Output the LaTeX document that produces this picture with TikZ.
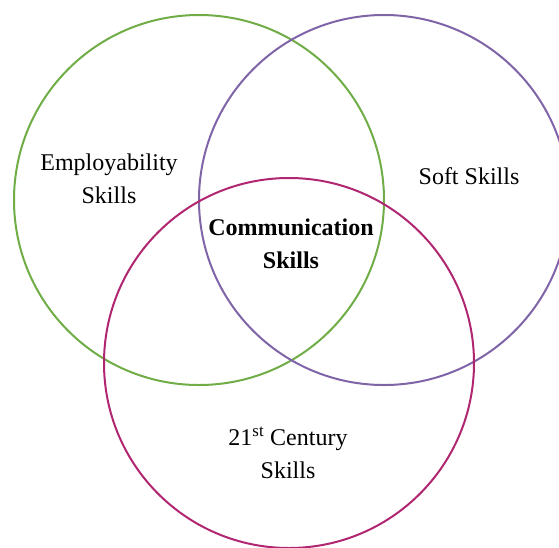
\documentclass[tikz,border=0pt]{standalone}
\usepackage{fontspec}
\setmainfont{Liberation Serif}
\definecolor{ringgreen}{RGB}{112,173,71}
\definecolor{ringpurple}{RGB}{128,100,168}
\definecolor{ringmagenta}{RGB}{176,38,112}
\tikzset{
	ring/.style={draw=#1, line width=2pt, circle, minimum size=370pt, inner sep=0pt},
	label text/.style={align=center, font=\fontsize{24}{33}\selectfont}
}
\begin{document}
\begin{tikzpicture}[x=1pt, y=-1pt]
	\useasboundingbox (0,0) rectangle (559,547);
	% Kreise
	\node[ring=ringgreen] (employ) at (199,200) {};
	\node[ring=ringpurple] (soft) at (384,200) {};
	\node[ring=ringmagenta] (century) at (289,363) {};
	% Beschriftungen
	\node[label text] (employtext) at (109,179) {Employability\\Skills};
	\node[label text] (softtext) at (469,176) {Soft Skills};
	\node[label text, font=\fontsize{24}{33}\selectfont\bfseries] (commtext) at (291,244) {Communication\\Skills};
	\node[label text] (centurytext) at (288,453) {21\textsuperscript{st} Century\\Skills};
\end{tikzpicture}
\end{document}
